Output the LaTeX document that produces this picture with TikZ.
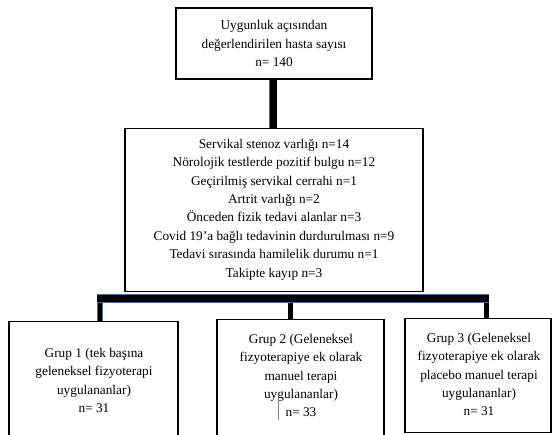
\documentclass[tikz,border=0pt]{standalone}
\usepackage{fontspec}
\setmainfont{Liberation Serif}
\usetikzlibrary{positioning}
\definecolor{barblue}{RGB}{65,113,156}
\tikzset{
    box/.style={
        rectangle,
        draw=black,
        line width=1.1pt,
        fill=white,
        align=center,
        font=\fontsize{13.3}{18.4}\selectfont,
        inner sep=0pt
    },
    boxtext/.style={
        align=center,
        font=\fontsize{13.3}{18.4}\selectfont,
        inner sep=0pt
    },
    bar/.style={
        draw=barblue,
        line width=0.8pt,
        double=black,
        double distance=7pt
    },
    drop/.style={
        draw=barblue,
        line width=0.8pt,
        double=black,
        double distance=4.2pt
    }
}
\begin{document}
\begin{tikzpicture}[x=1pt,y=-1pt,node distance=48pt]
    \useasboundingbox (0,0) rectangle (554,434);
    \node[box,minimum width=196pt,minimum height=71pt] (top) at (274,43.5)
        {Uygunluk açısından\\değerlendirilen hasta sayısı\\n= 140};
    \node[box,minimum width=298pt,minimum height=163pt] (excl) [below=of top]
        {Servikal stenoz varlığı n=14\\
         Nörolojik testlerde pozitif bulgu n=12\\
         Geçirilmiş servikal cerrahi n=1\\
         Artrit varlığı n=2\\
         Önceden fizik tedavi alanlar n=3\\
         Covid 19’a bağlı tedavinin durdurulması n=9\\
         Tedavi sırasında hamilelik durumu n=1\\
         Takipte kayıp n=3};
    % gruplar
    \node[box,minimum width=169pt,minimum height=120pt,anchor=north] (g1) at (93.5,321) {};
    \node[box,minimum width=167pt,minimum height=122pt,anchor=north] (g2) at (300.5,319) {};
    \node[box,minimum width=146pt,minimum height=114pt,anchor=north] (g3) at (478,318) {};
    \node[boxtext] (g1txt) at (94,380.5)
        {Grup 1 (tek başına\\geleneksel fizyoterapi\\uygulananlar)\\n= 31};
    \node[boxtext] (g2txt) at (301,375.5)
        {Grup 2 (Geleneksel\\fizyoterapiye ek olarak\\manuel terapi\\uygulananlar)\\n= 33};
    \node[boxtext] (g3txt) at (479,374.5)
        {Grup 3 (Geleneksel\\fizyoterapiye ek olarak\\placebo manuel terapi\\uygulananlar)\\n= 31};
    % baglantilar
    \coordinate (vb) at (273,0);
    \coordinate (hl) at (97,298.5);
    \coordinate (hr) at (489,298.5);
    \coordinate (d1) at (100,298.5);
    \coordinate (d2) at (290.5,298.5);
    \coordinate (d3) at (486.5,298.5);
    \draw[bar] (top.south -| vb) -- (excl.north -| vb);
    \draw[drop] (g1.north -| d1) -- (d1);
    \draw[drop] (g2.north -| d2) -- (d2);
    \draw[drop] (g3.north -| d3) -- (d3);
    \draw[bar] (hl) -- (hr);
    \draw[gray,line width=0.6pt] (278,398) -- (278,420);
\end{tikzpicture}
\end{document}
